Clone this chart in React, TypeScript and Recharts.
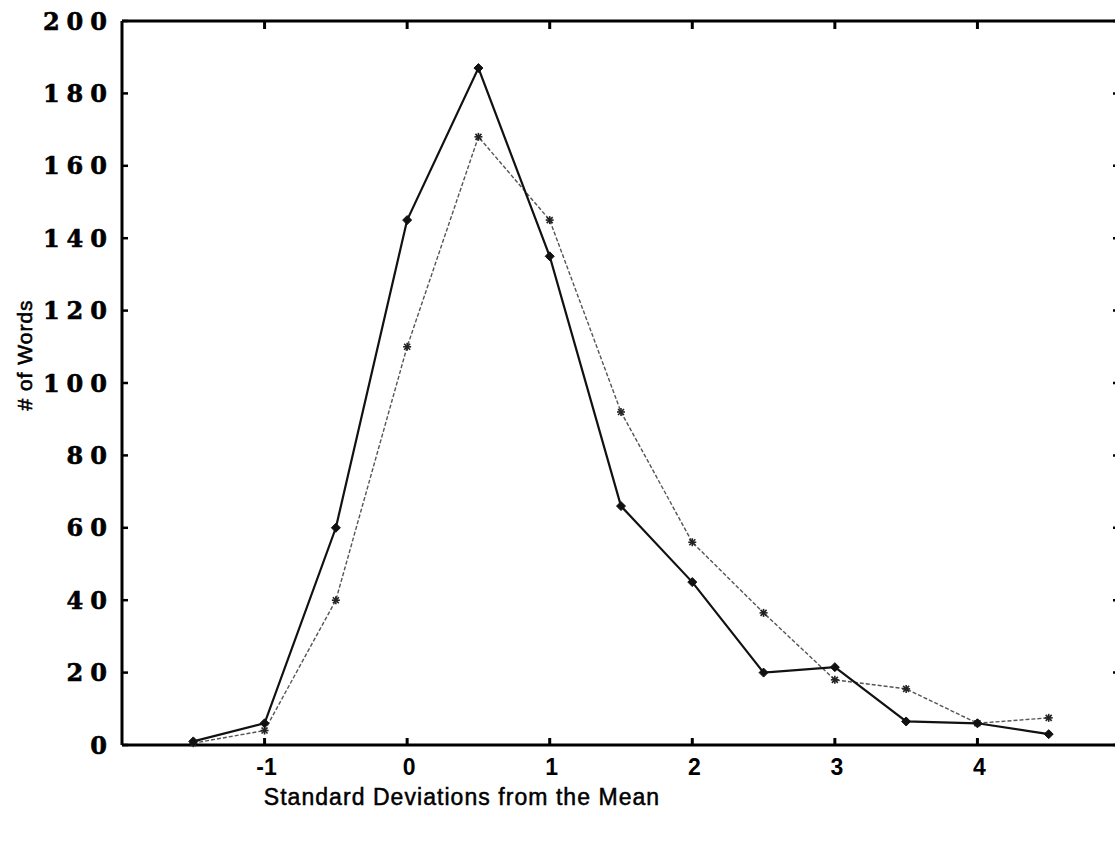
import React from "react";
import { LineChart, Line, XAxis, YAxis, ReferenceLine } from "recharts";

// Data
const xValues = [-1.5, -1, -0.5, 0, 0.5, 1, 1.5, 2, 2.5, 3, 3.5, 4, 4.5];
const solidSeries = [1, 6, 60, 145, 187, 135, 66, 45, 20, 21.5, 6.5, 6, 3];
const dottedSeries = [0.5, 4, 40, 110, 168, 145, 92, 56, 36.5, 18, 15.5, 6, 7.5];
const xTicks = [-1, 0, 1, 2, 3, 4];
const yTicks = [0, 20, 40, 60, 80, 100, 120, 140, 160, 180, 200];
const xDomain = [-2, 5];
const yDomain = [0, 200];

const data = xValues.map((x, i) => ({ x, solid: solidSeries[i], dotted: dottedSeries[i] }));

const CHART_W = 1130;
const CHART_H = 835;
const M_TOP = 13;
const M_RIGHT = 18;
const Y_W = 114;
const X_H = 98;
const PLOT_LEFT = Y_W;
const PLOT_BOTTOM = CHART_H - X_H;
// tick mark lengths in data units (px / plot size * domain span)
const TOP_TICK_LEN = (8 / 724) * 200;
const RIGHT_TICK_LEN = (7 / 998) * 7;

const BottomTick = (props: any) => {
  const { x, payload } = props;
  return (
    <g>
      <line x1={x} x2={x} y1={PLOT_BOTTOM} y2={PLOT_BOTTOM - 7} stroke="#000" strokeWidth={3} />
      <text
        x={x + 2}
        y={PLOT_BOTTOM + 30}
        textAnchor="middle"
        fontFamily="'Liberation Sans', Arial, sans-serif"
        fontWeight="bold"
        fontSize={23}
        fill="#000"
      >
        {String(payload.value)}
      </text>
    </g>
  );
};

const LeftTick = (props: any) => {
  const { y, payload } = props;
  return (
    <g>
      <line x1={PLOT_LEFT} x2={PLOT_LEFT + 6} y1={y} y2={y} stroke="#000" strokeWidth={2.5} />
      <text
        x={PLOT_LEFT - 15 + 7}
        y={y + 8.5}
        textAnchor="end"
        fontFamily="'DejaVu Serif', serif"
        fontWeight="bold"
        fontSize={24}
        letterSpacing={7}
        fill="#000"
        stroke="#000"
        strokeWidth={0.6}
      >
        {String(payload.value)}
      </text>
    </g>
  );
};

const DiamondDot = (props: any) => {
  const { cx, cy, index } = props;
  if (cx == null || cy == null) return <g key={index} />;
  return (
    <path
      key={index}
      d={`M${cx},${cy - 4.5} L${cx + 4.5},${cy} L${cx},${cy + 4.5} L${cx - 4.5},${cy} Z`}
      fill="#111"
      stroke="#111"
      strokeWidth={1}
    />
  );
};

const StarDot = (props: any) => {
  const { cx, cy, index } = props;
  if (cx == null || cy == null) return <g key={index} />;
  return (
    <g key={index} stroke="#222" strokeWidth={1.6}>
      <line x1={cx - 4} x2={cx + 4} y1={cy} y2={cy} />
      <line x1={cx} x2={cx} y1={cy - 4} y2={cy + 4} />
      <line x1={cx - 3} x2={cx + 3} y1={cy - 3} y2={cy + 3} />
      <line x1={cx - 3} x2={cx + 3} y1={cy + 3} y2={cy - 3} />
    </g>
  );
};

const XLabel = (props: any) => {
  const vb = props.viewBox || { x: PLOT_LEFT, y: PLOT_BOTTOM };
  return (
    <text
      x={vb.x + 340}
      y={vb.y + 60}
      textAnchor="middle"
      fontFamily="'Liberation Sans', Arial, sans-serif"
      fontSize={23}
      letterSpacing={1.05}
      fill="#000"
      stroke="#000"
      strokeWidth={0.5}
    >
      Standard Deviations from the Mean
    </text>
  );
};

const YLabel = () => {
  const cx = 24;
  const cy = 347;
  return (
    <text
      x={cx}
      y={cy}
      transform={`rotate(-90 ${cx} ${cy})`}
      textAnchor="middle"
      fontFamily="'Liberation Sans', Arial, sans-serif"
      fontSize={21}
      letterSpacing={1}
      fill="#000"
      stroke="#000"
      strokeWidth={0.6}
    >
      # of Words
    </text>
  );
};

export default function App() {
  return (
    <div
      style={{
        position: "fixed",
        left: 8,
        top: 8,
        width: 1107,
        height: 835,
        overflow: "hidden",
        background: "#fff",
      }}
    >
      <LineChart
        width={CHART_W}
        height={CHART_H}
        data={data}
        margin={{ top: M_TOP, right: M_RIGHT, left: 0, bottom: 0 }}
      >
        <XAxis
          xAxisId="bottom"
          dataKey="x"
          type="number"
          domain={xDomain}
          ticks={xTicks}
          allowDataOverflow
          height={X_H}
          axisLine={{ stroke: "#000", strokeWidth: 3 }}
          tickLine={false}
          tick={<BottomTick />}
          label={<XLabel />}
        />
        <YAxis
          yAxisId="left"
          type="number"
          domain={yDomain}
          ticks={yTicks}
          width={Y_W}
          axisLine={{ stroke: "#000", strokeWidth: 3 }}
          tickLine={false}
          tick={<LeftTick />}
          label={<YLabel />}
        />
        <ReferenceLine xAxisId="bottom" yAxisId="left" y={200} stroke="#000" strokeWidth={3} ifOverflow="visible" />
        <ReferenceLine xAxisId="bottom" yAxisId="left" x={5} stroke="#000" strokeWidth={3} ifOverflow="visible" />
        {xTicks.map((t) => (
          <ReferenceLine
            key={`top-${t}`}
            xAxisId="bottom"
            yAxisId="left"
            segment={[
              { x: t, y: 200 },
              { x: t, y: 200 - TOP_TICK_LEN },
            ]}
            stroke="#000"
            strokeWidth={3}
            ifOverflow="visible"
          />
        ))}
        {yTicks.map((t) => (
          <ReferenceLine
            key={`right-${t}`}
            xAxisId="bottom"
            yAxisId="left"
            segment={[
              { x: 5 - RIGHT_TICK_LEN, y: t },
              { x: 5, y: t },
            ]}
            stroke="#000"
            strokeWidth={2.5}
            ifOverflow="visible"
          />
        ))}
        <Line
          xAxisId="bottom"
          yAxisId="left"
          type="linear"
          dataKey="dotted"
          stroke="#555"
          strokeWidth={1.4}
          strokeDasharray="4 2"
          dot={StarDot}
          isAnimationActive={false}
        />
        <Line
          xAxisId="bottom"
          yAxisId="left"
          type="linear"
          dataKey="solid"
          stroke="#111"
          strokeWidth={2.2}
          dot={DiamondDot}
          isAnimationActive={false}
        />
      </LineChart>
    </div>
  );
}
